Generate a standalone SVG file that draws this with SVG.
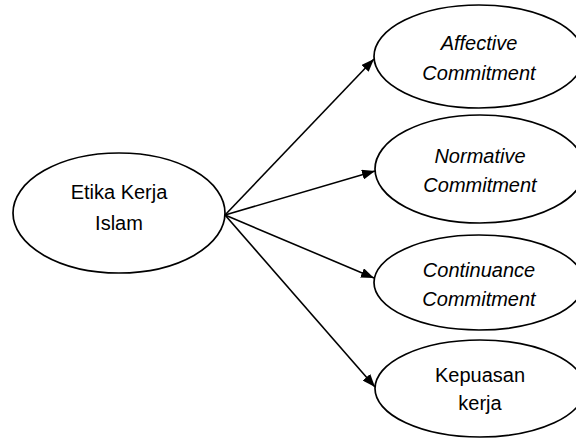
<svg xmlns="http://www.w3.org/2000/svg" width="576" height="439" viewBox="0 0 576 439">
<style>
.node ellipse{fill:#fff;stroke:#000;stroke-width:1.7}
.node text{font-family:"Liberation Sans",Arial,sans-serif;font-size:20px;fill:#000;text-anchor:middle}
.it{font-style:italic}
#connectors line{stroke:#000;stroke-width:1.6;marker-end:url(#arr)}
</style>
<defs>
<marker id="arr" viewBox="0 0 13 10" refX="13" refY="5" markerWidth="13" markerHeight="10" markerUnits="userSpaceOnUse" orient="auto">
<path d="M0,0 L13,5 L0,10 z" fill="#000"/>
</marker>
</defs>
<rect width="576" height="439" fill="#fff"/>
<g id="connectors">
<line x1="225" y1="215" x2="374" y2="59"/>
<line x1="225" y1="215" x2="375" y2="171"/>
<line x1="225" y1="215" x2="374" y2="278"/>
<line x1="225" y1="215" x2="375" y2="387"/>
</g>
<g id="etika" class="node">
<ellipse cx="119" cy="213" rx="106" ry="60"/>
<text x="119" y="199">Etika Kerja</text>
<text x="119" y="230">Islam</text>
</g>
<g id="affective" class="node">
<ellipse cx="479" cy="56.5" rx="105" ry="51.5"/>
<text class="it" x="479" y="49.5">Affective</text>
<text class="it" x="479" y="80">Commitment</text>
</g>
<g id="normative" class="node">
<ellipse cx="480" cy="169" rx="105" ry="54"/>
<text class="it" x="480" y="162.5">Normative</text>
<text class="it" x="480" y="191.5">Commitment</text>
</g>
<g id="continuance" class="node">
<ellipse cx="479" cy="282.5" rx="105" ry="47.5"/>
<text class="it" x="479" y="276.5">Continuance</text>
<text class="it" x="479" y="306">Commitment</text>
</g>
<g id="kepuasan" class="node">
<ellipse cx="480" cy="388.5" rx="105" ry="48.5"/>
<text x="480" y="381.5">Kepuasan</text>
<text x="480" y="410">kerja</text>
</g>
</svg>
